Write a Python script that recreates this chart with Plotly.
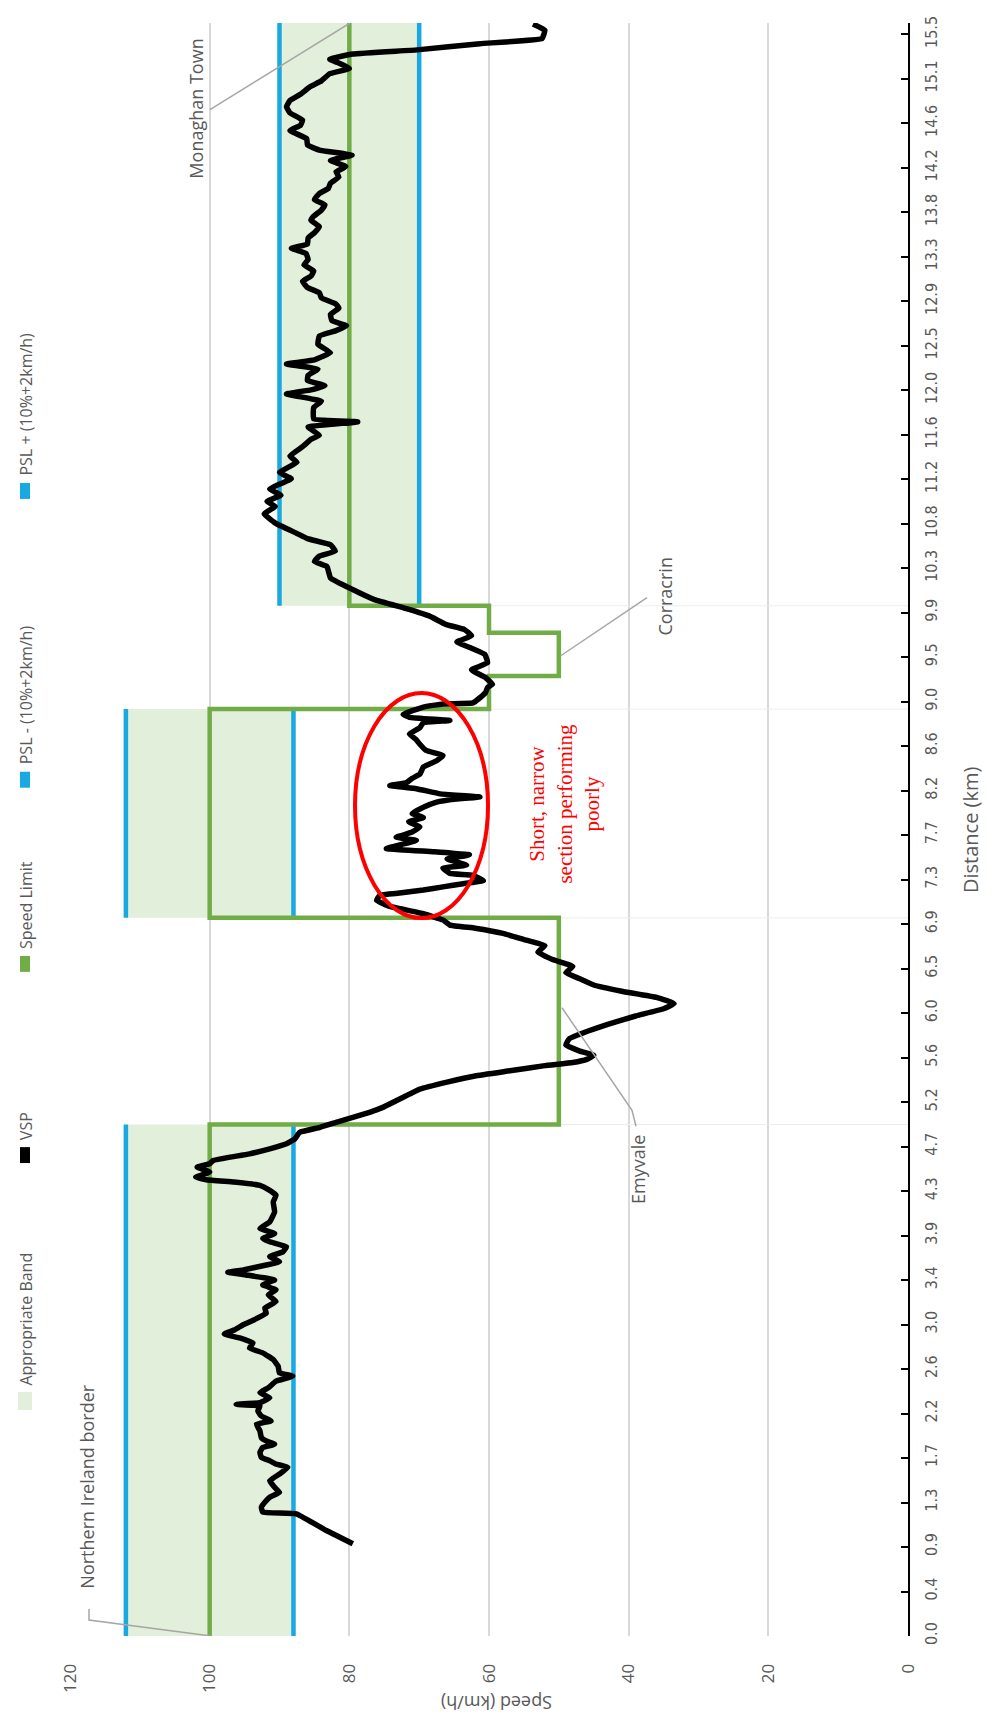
import plotly.graph_objects as go

# ---------------- data ----------------
dist_labels = ["0.0", "0.4", "0.9", "1.3", "1.7", "2.2", "2.6", "3.0", "3.4", "3.9",
               "4.3", "4.7", "5.2", "5.6", "6.0", "6.5", "6.9", "7.3", "7.7", "8.2",
               "8.6", "9.0", "9.5", "9.9", "10.3", "10.8", "11.2", "11.6", "12.0",
               "12.5", "12.9", "13.3", "13.8", "14.2", "14.6", "15.1", "15.5"]
route_length = 15.5
axis_max = 15.61
speed_ticks = [0, 20, 40, 60, 80, 100, 120]

# speed limit zones (km, km, km/h)
zone_start = [0.0, 4.95, 6.95, 8.97, 9.29, 9.71, 9.97]
zone_end = [4.95, 6.95, 8.97, 9.29, 9.71, 9.97, 15.61]
zone_limit = [100, 50, 100, 60, 50, 60, 80]

# appropriate band zones
band_start = [0.0, 6.95, 9.97]
band_end = [4.95, 8.97, 15.61]
psl_minus = [88, 88, 70]
psl_plus = [112, 112, 90]

# vehicle speed profile
vsp_dist = [0.893, 1.021, 1.182, 1.198, 1.246, 1.294, 1.343, 1.391, 1.439, 1.503, 1.567, 1.632,
            1.664, 1.696, 1.728, 1.776, 1.824, 1.856, 1.888, 1.920, 1.985, 2.049, 2.081, 2.129,
            2.177, 2.226, 2.242, 2.258, 2.306, 2.354, 2.402, 2.466, 2.515, 2.547, 2.611, 2.675,
            2.740, 2.788, 2.836, 2.884, 2.923, 2.964, 3.012, 3.061, 3.125, 3.173, 3.237, 3.301,
            3.350, 3.398, 3.446, 3.494, 3.520, 3.542, 3.590, 3.622, 3.671, 3.719, 3.767, 3.815,
            3.847, 3.896, 3.944, 4.008, 4.104, 4.201, 4.265, 4.313, 4.361, 4.393, 4.416, 4.441,
            4.490, 4.538, 4.570, 4.602, 4.634, 4.666, 4.714, 4.763, 4.811, 4.875, 4.923, 4.971,
            5.019, 5.068, 5.116, 5.180, 5.244, 5.292,
            5.36, 5.42, 5.47, 5.52, 5.55, 5.58, 5.62, 5.66, 5.72, 5.78, 5.85, 5.92, 6.00, 6.07,
            6.12, 6.18, 6.24, 6.30, 6.36, 6.42, 6.48, 6.55, 6.62, 6.68, 6.74, 6.80, 6.85, 6.88,
            6.93, 6.99, 7.06, 7.12, 7.17, 7.19, 7.22, 7.25, 7.28, 7.31, 7.36, 7.38, 7.43, 7.46,
            7.52, 7.56, 7.59, 7.62, 7.66, 7.70, 7.73, 7.78, 7.83, 7.88, 7.92, 7.96, 8.02, 8.07,
            8.10, 8.12, 8.15, 8.20, 8.23, 8.26, 8.30, 8.34, 8.41, 8.47, 8.52, 8.57, 8.63, 8.68,
            8.73, 8.79, 8.84, 8.86, 8.89, 8.92, 8.99, 9.02, 9.03, 9.08, 9.13, 9.18, 9.21,
            9.28, 9.35, 9.42, 9.50, 9.56, 9.62, 9.68, 9.74, 9.79, 9.87, 9.94, 10.03, 10.13,
            10.24, 10.35, 10.40, 10.45, 10.50, 10.56, 10.62, 10.67, 10.77, 10.86, 10.93, 10.98,
            11.04, 11.10, 11.20, 11.26, 11.36, 11.42, 11.51, 11.58, 11.62, 11.70, 11.75, 11.78,
            11.89, 11.95, 12.02, 12.06, 12.10, 12.15, 12.20, 12.26, 12.31, 12.35, 12.42, 12.50,
            12.58, 12.63, 12.68, 12.73, 12.79, 12.85, 12.89, 12.95, 13.00, 13.05, 13.11, 13.16,
            13.21, 13.27, 13.32, 13.38, 13.43, 13.47, 13.53, 13.58, 13.64, 13.70, 13.74, 13.80,
            13.85, 13.90, 13.96, 14.01, 14.06, 14.12, 14.17, 14.22, 14.28, 14.33, 14.38, 14.43,
            14.49, 14.57, 14.62, 14.67, 14.74, 14.80, 14.86, 14.92, 14.99, 15.05, 15.12, 15.17,
            15.23, 15.26, 15.31, 15.35, 15.41, 15.46, 15.54, 15.60]
vsp_speed = [79.5, 83.3, 87.6, 92.4, 92.6, 92.1, 91.4, 90.0, 90.7, 91.4, 90.0, 88.8,
             90.5, 91.4, 92.6, 92.8, 92.4, 90.7, 91.9, 92.6, 92.8, 93.3, 91.2, 92.6,
             93.1, 92.8, 96.2, 92.8, 91.4, 92.8, 91.6, 90.5, 88.1, 90.0, 90.2, 90.9,
             92.4, 94.3, 93.8, 95.7, 97.9, 96.4, 95.2, 93.6, 91.9, 92.1, 90.5, 91.6,
             90.5, 92.4, 90.7, 94.8, 97.4, 95.2, 91.9, 90.0, 91.4, 89.5, 89.0, 91.4,
             92.4, 90.7, 92.8, 91.4, 90.7, 90.9, 90.5, 91.4, 92.8, 96.5, 100.5, 102.0,
             100.0, 101.8, 100.0, 99.5, 97.1, 94.3, 91.4, 89.0, 87.8, 87.1, 84.2, 81.9,
             79.5, 77.1, 75.2, 73.3, 71.4, 69.9,
             66.0, 62.0, 57.0, 52.0, 48.0, 46.0, 45.0, 47.0, 49.0, 48.5, 46.0, 43.0, 39.0, 35.0,
             33.5, 36.0, 41.0, 45.0, 47.0, 49.0, 48.0, 51.0, 53.0, 52.0, 55.0, 58.0, 62.0, 65.6,
             66.6, 69.4, 74.2, 76.1, 75.6, 72.8, 69.4, 66.6, 63.7, 60.8, 62.3, 65.6, 66.6, 63.2,
             66.0, 62.8, 68.0, 74.7, 72.5, 70.4, 73.3, 71.0, 69.9, 71.5, 69.4, 71.0, 69.4, 67.5,
             64.7, 61.3, 67.0, 70.4, 74.2, 71.8, 71.0, 69.9, 69.4, 67.5, 66.6, 69.0, 69.9, 70.5,
             71.4, 69.9, 69.4, 65.6, 71.4, 72.3, 69.4, 66.6, 62.3, 61.3, 60.5, 60.2, 59.5,
             60.6, 62.5, 60.2, 60.6, 62.5, 64.6, 62.5, 63.5, 66.2, 68.5, 71.7, 76.4, 79.6,
             82.7, 83.2, 85.0, 84.3, 82.0, 82.7, 86.0, 87.5, 90.6, 92.2, 90.6, 91.8,
             89.8, 91.4, 88.3, 90.0, 87.5, 88.5, 86.7, 85.5, 84.3, 85.9, 78.8, 85.1,
             85.1, 84.0, 89.0, 85.5, 83.5, 86.0, 85.9, 84.5, 89.0, 85.0, 82.7, 84.5,
             84.3, 82.0, 80.4, 82.5, 82.7, 81.5, 81.9, 84.0, 84.3, 86.0, 86.7, 85.5,
             85.1, 86.5, 85.9, 86.2, 88.3, 86.0, 85.9, 85.0, 84.3, 85.5, 85.1, 84.0,
             83.5, 85.0, 84.3, 83.0, 82.7, 81.5, 81.9, 80.5, 82.7, 79.6, 84.3, 86.0,
             86.1, 88.5, 87.0, 86.7, 88.5, 89.0, 88.5, 87.0, 85.7, 84.0, 82.8, 80.0,
             81.8, 82.8, 79.5, 70.3, 61.3, 52.4, 52.0, 53.7]

# ---------------- layout geometry ----------------
W, H = 993, 1729
OX, OY = -8, -8          # global offset of the reference drawing
L, R, T, B = 70 + OX, 85 - OX, 16 + OY, 93 - OY
PW, PH = W - L - R, H - T - B


def px(x):
    return (x - L) / PW


def py(y):
    return (H - B - y) / PH


def dx(x):
    return (L + PW - x) / PW * 120


def dy(y):
    return (H - B - y) / PH * axis_max


GRAY = "#595959"
GREEN = "#70AD47"
BLUE = "#19A9E1"
BANDC = "#E2EFDA"

fig = go.Figure()

# appropriate band
bx, by = [], []
for s0, s1, lo, hi in zip(band_start, band_end, psl_minus, psl_plus):
    bx += [lo, hi, hi, lo, lo, None]
    by += [s0, s0, s1, s1, s0, None]
fig.add_trace(go.Scatter(x=bx, y=by, fill="toself", fillcolor=BANDC, mode="none",
                         hoverinfo="skip", name="Appropriate Band"))

# faint edges of the band area at band boundaries
ex, ey = [], []
for s0, s1, lo in zip(band_start, band_end, psl_minus):
    for d in (s0, s1):
        if 0 < d < axis_max - 0.01:
            ex += [lo, 0, None]
            ey += [d, d, None]
fig.add_trace(go.Scatter(x=ex, y=ey, mode="lines", line=dict(color="#EDEDED", width=1),
                         hoverinfo="skip"))

# PSL - and PSL +
for vals in (psl_minus, psl_plus):
    lx, ly = [], []
    for s0, s1, v in zip(band_start, band_end, vals):
        lx += [v, v, None]
        ly += [s0, s1, None]
    fig.add_trace(go.Scatter(x=lx, y=ly, mode="lines", line=dict(color=BLUE, width=4.5)))

# speed limit step line
gx, gy = [], []
for s0, s1, v in zip(zone_start, zone_end, zone_limit):
    gx += [v, v]
    gy += [s0, s1]
fig.add_trace(go.Scatter(x=gx, y=gy, mode="lines",
                         line=dict(color=GREEN, width=4.5, shape="linear")))

# VSP
fig.add_trace(go.Scatter(x=vsp_speed, y=vsp_dist, mode="lines",
                         line=dict(color="black", width=5.5, shape="spline", smoothing=0.3)))

# tick positions
step = route_length / (len(dist_labels) - 1)
dist_tickvals = [i * step for i in range(len(dist_labels))]

fig.update_layout(
    width=W, height=H,
    margin=dict(l=L, r=R, t=T, b=B, pad=0),
    paper_bgcolor="white", plot_bgcolor="white",
    showlegend=False,
    font=dict(family="Open Sans, DejaVu Sans, sans-serif", color=GRAY, size=16),
)
fig.update_xaxes(range=[120, 0], tickvals=speed_ticks, ticktext=[str(v) for v in speed_ticks],
                 tickangle=-90, showgrid=True, gridcolor="#D9D9D9", gridwidth=1.5,
                 zeroline=False, showline=False, ticks="outside", ticklen=20,
                 tickcolor="rgba(0,0,0,0)",
                 tickfont=dict(size=17, color=GRAY, family="Open Sans, sans-serif"))
fig.update_yaxes(range=[0, axis_max], side="right", tickvals=dist_tickvals,
                 ticktext=dist_labels, tickangle=-90, showgrid=False, zeroline=False,
                 showline=True, linecolor="black", linewidth=2, ticks="inside",
                 ticklen=7, tickwidth=2, tickcolor="black", ticklabelstandoff=8,
                 tickfont=dict(size=16, color=GRAY,
                               family="DejaVu Sans Condensed, Liberation Sans Narrow, DejaVu Sans, sans-serif"))

# axis titles
fig.add_annotation(x=px(489), y=py(1710), xref="paper", yref="paper", text="Speed (km/h)",
                   textangle=180, showarrow=False, font=dict(size=18, color=GRAY,
                                                              family="Open Sans, sans-serif"))
fig.add_annotation(x=px(978), y=py(818), xref="paper", yref="paper", text="Distance (km)",
                   textangle=-90, showarrow=False, font=dict(size=20, color=GRAY,
                                                              family="Open Sans, sans-serif"))

# legend (rotated)
legend_items = [("Appropriate Band", BANDC, 1392, "box"),
                ("VSP", "black", 1145, "bar"),
                ("Speed Limit", GREEN, 953, "bar"),
                ("PSL - (10%+2km/h)", BLUE, 768, "bar"),
                ("PSL + (10%+2km/h)", BLUE, 478, "bar")]
for name, col, yc, kind in legend_items:
    if kind == "box":
        fig.add_shape(type="rect", xref="paper", yref="paper", x0=px(10), x1=px(24),
                      y0=py(yc + 9), y1=py(yc - 9), fillcolor=col, line=dict(width=0))
    else:
        fig.add_shape(type="line", xref="paper", yref="paper", x0=px(17), x1=px(17),
                      y0=py(yc + 8), y1=py(yc - 8), line=dict(color=col, width=10))
    fig.add_annotation(x=px(18), y=py(yc - 13), xref="paper", yref="paper", text=name,
                       textangle=-90, showarrow=False, xanchor="center", yanchor="bottom",
                       font=dict(size=16, color=GRAY, family="Open Sans, sans-serif"))

# place labels
place_labels = [("Northern Ireland border", 87, 1486),
                ("Emyvale", 638, 1168),
                ("Corracrin", 665, 592),
                ("Monaghan Town", 196, 102)]
for name, x, y in place_labels:
    fig.add_annotation(x=dx(x + OX), y=dy(y + OY), text=name, textangle=-90, showarrow=False,
                       font=dict(size=18, color=GRAY, family="Open Sans, sans-serif"))

leaders = [[(89, 1609), (89, 1620), (211, 1636)],
           [(636, 1124), (632, 1108), (562, 1005)],
           [(647, 593), (560, 652)],
           [(210, 103), (350, 16)]]
for pts in leaders:
    path = "M " + " L ".join(f"{dx(x + OX)},{dy(y + OY)}" for x, y in pts)
    fig.add_shape(type="path", path=path, line=dict(color="#A6A6A6", width=1.5))

# red ellipse + comment
fig.add_shape(type="circle", x0=dx(355 + OX), x1=dx(488 + OX), y0=dy(915 + OY), y1=dy(689 + OY),
              line=dict(color="red", width=4))
fig.add_annotation(x=dx(565 + OX), y=dy(800 + OY),
                   text="Short, narrow<br>section performing<br>poorly",
                   textangle=-90, showarrow=False, align="center",
                   font=dict(size=21, color="red", family="Liberation Serif, serif"))

fig.write_html("out.html")
